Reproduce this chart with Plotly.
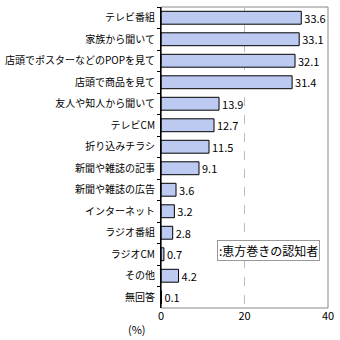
import plotly.graph_objects as go

categories = ["テレビ番組", "家族から聞いて", "店頭でポスターなどのPOPを見て", "店頭で商品を見て",
              "友人や知人から聞いて", "テレビCM", "折り込みチラシ", "新聞や雑誌の記事",
              "新聞や雑誌の広告", "インターネット", "ラジオ番組", "ラジオCM", "その他", "無回答"]
values = [33.6, 33.1, 32.1, 31.4, 13.9, 12.7, 11.5, 9.1, 3.6, 3.2, 2.8, 0.7, 4.2, 0.1]
series_name = ":恵方巻きの認知者"

FONT = "Noto Sans CJK JP"

fig = go.Figure()
fig.add_trace(go.Bar(
    y=categories, x=values, orientation="h",
    marker=dict(color="#bccaf2", line=dict(color="#000000", width=1)),
    text=[f"{v:.1f}" for v in values], textposition="outside", constraintext="none",
    textfont=dict(family=FONT, size=11, color="#000"),
    cliponaxis=False, width=0.6, name=series_name,
))

fig.update_layout(
    width=340, height=340,
    margin=dict(l=161, r=12, t=7, b=32),
    paper_bgcolor="white", plot_bgcolor="white",
    showlegend=False,
    font=dict(family=FONT, size=11, color="#000"),
    xaxis=dict(range=[0, 40], dtick=20, showgrid=True, gridcolor="#bbbbbb", griddash="dash",
               gridwidth=1, zeroline=False, showline=False, ticks="", automargin=False,
               tickfont=dict(family=FONT, size=11), fixedrange=True),
    yaxis=dict(autorange="reversed", showline=True, linecolor="#000", linewidth=1,
               ticks="outside", tickson="boundaries", ticklen=3, tickcolor="#000",
               showgrid=False, tickfont=dict(family=FONT, size=10), automargin=False,
               ticklabelstandoff=3, fixedrange=True),
    shapes=[
        dict(type="rect", xref="paper", yref="paper", x0=0, x1=1, y0=0, y1=1,
             line=dict(color="#888888", width=1), layer="below"),
        dict(type="line", xref="paper", yref="paper", x0=0, x1=0, y0=0, y1=1,
             line=dict(color="#000", width=1)),
    ],
    annotations=[
        dict(text="(%)", xref="paper", yref="paper", x=-0.08, y=-0.035, xanchor="right",
             yanchor="top", showarrow=False, font=dict(family=FONT, size=11)),
        dict(text=series_name, xref="paper", yref="paper", x=0.335, y=0.19, xanchor="left",
             yanchor="middle", showarrow=False, bordercolor="#999999", borderwidth=1,
             borderpad=1, bgcolor="white", font=dict(family=FONT, size=12)),
    ],
)

fig.write_html("out.html")
